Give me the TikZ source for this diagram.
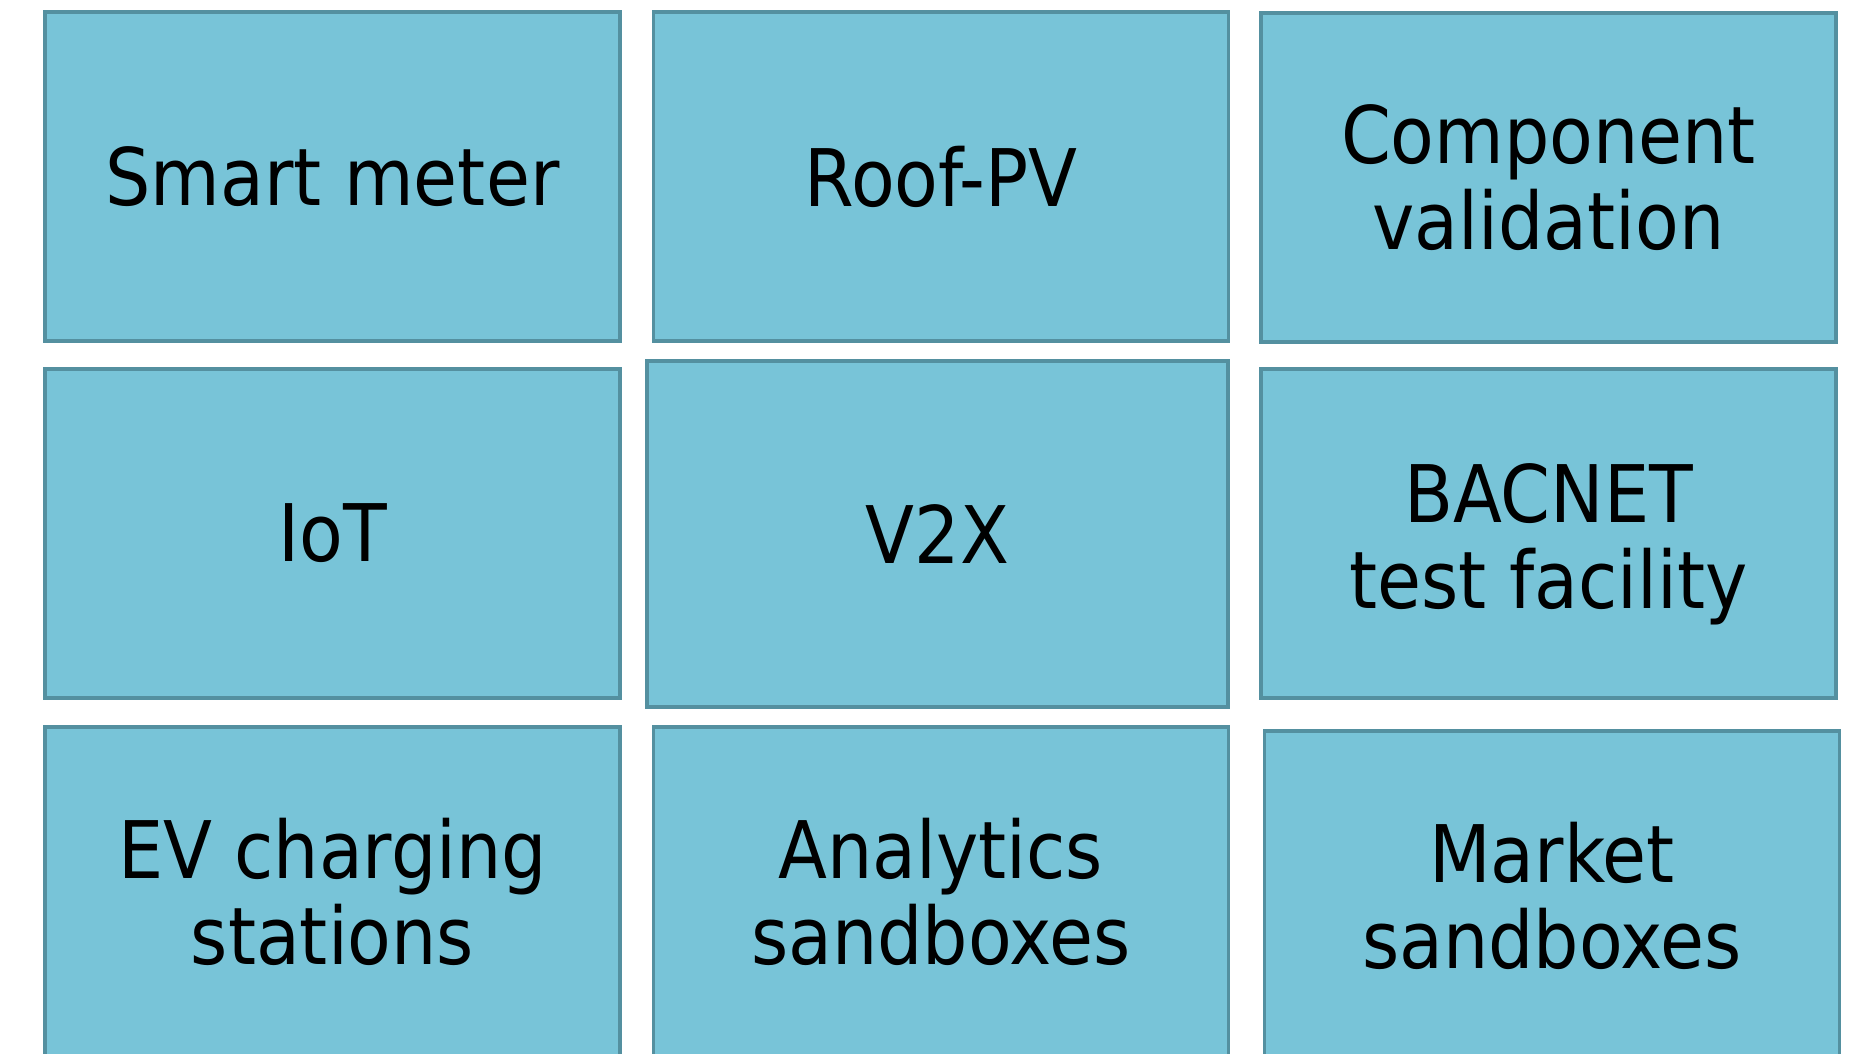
\documentclass[tikz,border=0pt]{standalone}
\usepackage{fontspec}
\setmainfont{DejaVu Sans Condensed}
\usepackage{tikz}

\definecolor{tilefill}{RGB}{120,196,216}
\definecolor{tileline}{RGB}{84,144,160}

\tikzset{
  tile/.style={draw=tileline, line width=0.9pt, fill=tilefill, align=center,
    minimum width=5.75cm, minimum height=3.29cm, inner sep=0pt,
    font=\fontsize{22.6}{24.5}\selectfont},
  bigtile/.style={tile, minimum width=5.81cm, minimum height=3.46cm}
}

\begin{document}
\begin{tikzpicture}
  % Page frame
  \useasboundingbox (0,0) rectangle (18.5,-10.53);
  \clip (0,0) rectangle (18.5,-10.53);

  % Top row
  \node[tile] (meter) at (3.325,-1.765) {Smart meter};
  \node[tile] (roofpv) at (9.41,-1.765) {Roof-PV};
  \node[tile] (compval) at (15.485,-1.775) {Component\\validation};

  % Middle row
  \node[tile] (iot) at (3.325,-5.335) {IoT};
  \node[bigtile] (vtwox) at (9.375,-5.34) {V2X};
  \node[tile, text height=1.67cm] (bacnet) at (15.485,-5.335) {BACNET\\test facility};

  % Bottom row (cut off by the page edge)
  \node[tile] (evcharge) at (3.325,-8.915) {EV charging\\stations};
  \node[tile] (analytics) at (9.41,-8.915) {Analytics\\sandboxes};
  \node[tile] (market) at (15.52,-8.955) {Market\\sandboxes};
\end{tikzpicture}
\end{document}
